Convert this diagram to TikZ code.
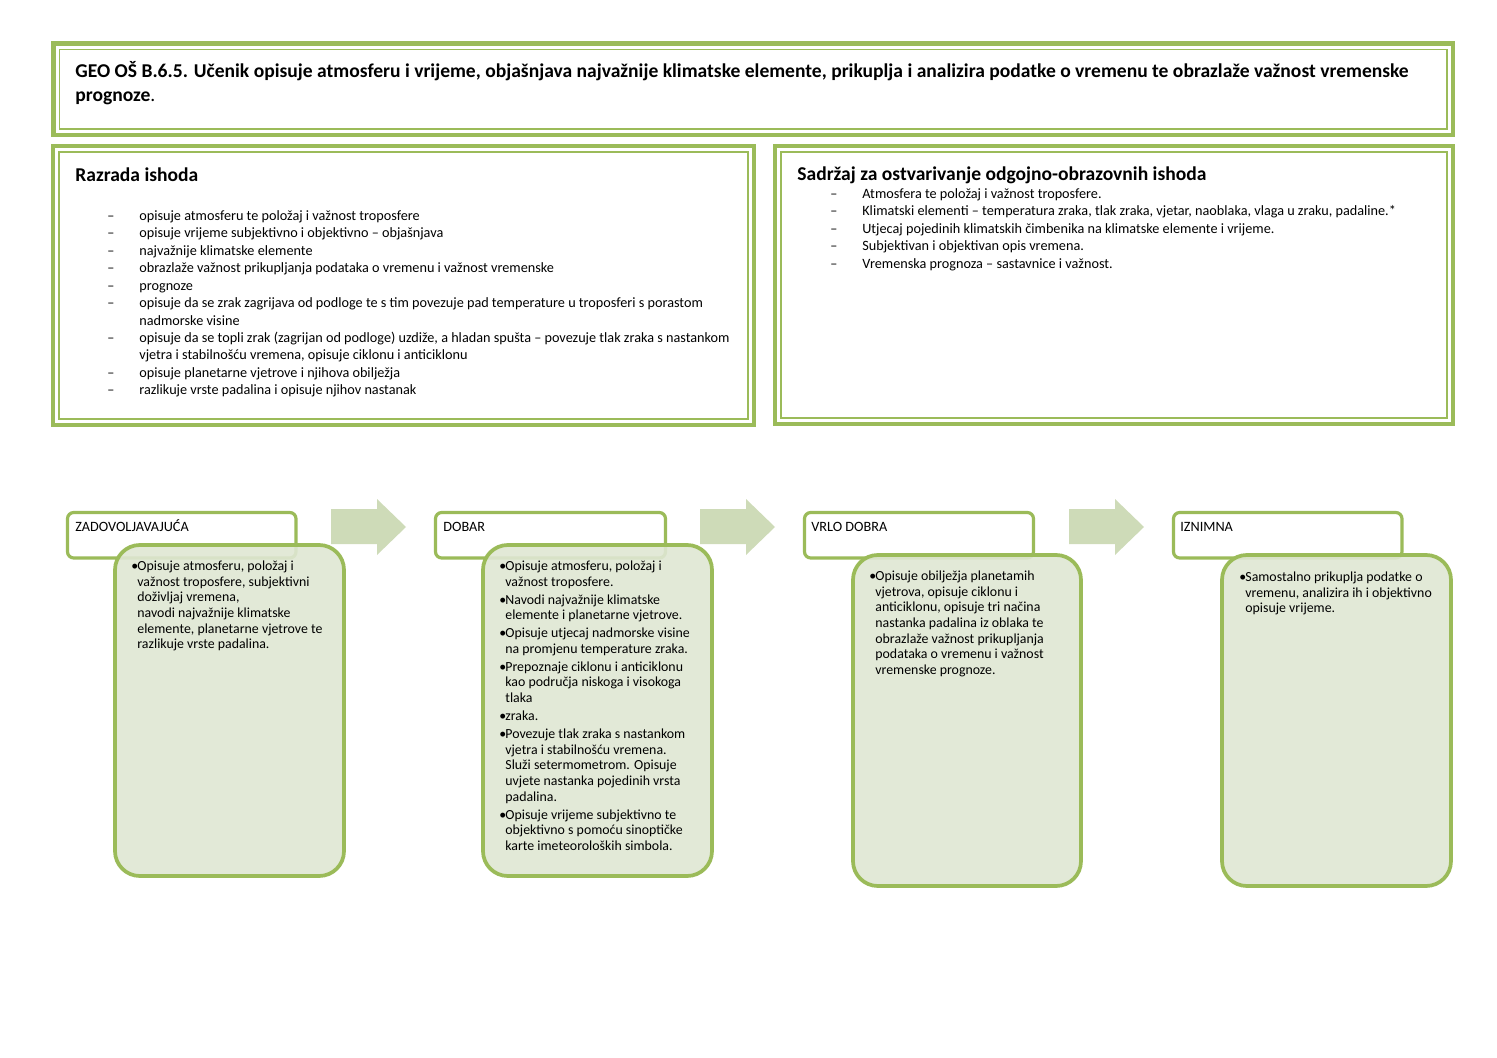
\documentclass[tikz,border=0pt]{standalone}
\usepackage{fontspec}
\setmainfont{Carlito}
\usetikzlibrary{positioning}

\definecolor{gborder}{HTML}{9BBB59}
\definecolor{gfill}{HTML}{DFE7D3}
\definecolor{garrow}{HTML}{CEDBB8}

% double frame: thick outer line, thin inner line
\newcommand{\dblframe}[4]{%
  \draw[outerline] (#1+2,#2+2) rectangle (#3-2,#4-2);
  \draw[innerline] (#1+8,#2+8) rectangle (#3-8,#4-8);}
% block arrow between the levels
\newcommand{\blockarrow}[1]{%
  \fill[garrow] (#1,509) -- (#1+46,509) -- (#1+46,499) -- (#1+75,527)
    -- (#1+46,555) -- (#1+46,544) -- (#1,544) -- cycle;}
\newcommand{\dl}[1]{\makebox[18pt][l]{–}#1}
\newcommand{\cl}[1]{\hspace*{18pt}#1}
\newcommand{\bul}{\makebox[3.4pt][l]{\textbullet}}
\newcommand{\cb}{\hspace*{3.4pt}}

\tikzset{
  outerline/.style={draw=gborder, line width=2.3pt},
  innerline/.style={draw=gborder, line width=0.85pt},
  levelbox/.style={draw=gborder, line width=1.8pt, fill=white, rounded corners=3.5pt},
  detailbox/.style={draw=gborder, line width=2.1pt, fill=gfill, fill opacity=0.9, rounded corners=14pt},
  txt/.style={anchor=base west, inner sep=0pt},
  headfont/.style={font=\fontsize{11}{13.5}\selectfont\bfseries},
  listfont/.style={font=\fontsize{8}{9.8}\selectfont},
  smallfont/.style={font=\fontsize{7.8}{8.8}\selectfont}
}

\begin{document}
\begin{tikzpicture}[x=0.5625pt, y=-0.5625pt]
\useasboundingbox (0,0) rectangle (1497,1058);

% Top frame: outcome
\dblframe{51.5}{41.5}{1455}{137}
\node[txt, headfont] (title) at (75,78) {\begin{tabular}[t]{@{}l@{}}
GEO OŠ B.6.5. Učenik opisuje atmosferu i vrijeme, objašnjava najvažnije klimatske elemente, prikuplja i analizira podatke o vremenu te obrazlaže važnost vremenske\\
prognoze\mdseries.\end{tabular}};

% Left frame: Razrada ishoda
\dblframe{51}{144}{756}{427}
\node[txt, headfont] (razHead) at (75,182) {Razrada ishoda};
\node[txt, listfont] (razList) at (107,220.5) {\begin{tabular}[t]{@{}l@{}}
\dl{opisuje atmosferu te položaj i važnost troposfere}\\
\dl{opisuje vrijeme subjektivno i objektivno – objašnjava}\\
\dl{najvažnije klimatske elemente}\\
\dl{obrazlaže važnost prikupljanja podataka o vremenu i važnost vremenske}\\
\dl{prognoze}\\
\dl{opisuje da se zrak zagrijava od podloge te s tim povezuje pad temperature u troposferi s porastom}\\
\cl{nadmorske visine}\\
\dl{opisuje da se topli zrak (zagrijan od podloge) uzdiže, a hladan spušta – povezuje tlak zraka s nastankom}\\
\cl{vjetra i stabilnošću vremena, opisuje ciklonu i anticiklonu}\\
\dl{opisuje planetarne vjetrove i njihova obilježja}\\
\dl{razlikuje vrste padalina i opisuje njihov nastanak}
\end{tabular}};

% Right frame: Sadrzaj
\dblframe{773}{144}{1455}{426}
\node[txt, headfont] (sadHead) at (797,181) {Sadržaj za ostvarivanje odgojno-obrazovnih ishoda};
\node[txt, listfont] (sadList) at (830,198.5) {\begin{tabular}[t]{@{}l@{}}
\dl{Atmosfera te položaj i važnost troposfere.}\\
\dl{Klimatski elementi – temperatura zraka, tlak zraka, vjetar, naoblaka, vlaga u zraku, padaline.*}\\
\dl{Utjecaj pojedinih klimatskih čimbenika na klimatske elemente i vrijeme.}\\
\dl{Subjektivan i objektivan opis vremena.}\\
\dl{Vremenska prognoza – sastavnice i važnost.}
\end{tabular}};

% Arrows between levels
\blockarrow{331}
\blockarrow{700}
\blockarrow{1069}

% Level 1
\draw[levelbox] (67.5,512.5) rectangle (296,558);
\node[txt, listfont] (lvlA) at (75,531.5) {ZADOVOLJAVAJUĆA};
\draw[detailbox] (115,545) rectangle (344,876);
\node[txt, smallfont] (descA) at (131,570.5) {\begin{tabular}[t]{@{}l@{}}
\bul Opisuje atmosferu, položaj i\\
\cb važnost troposfere, subjektivni\\
\cb doživljaj vremena,\\
\cb navodi najvažnije klimatske\\
\cb elemente, planetarne vjetrove te\\
\cb razlikuje vrste padalina.
\end{tabular}};

% Level 2
\draw[levelbox] (435.5,512.5) rectangle (665.5,558);
\node[txt, listfont] (lvlB) at (443,531.5) {DOBAR};
\draw[detailbox] (483,545) rectangle (712,876);
\node[txt, smallfont] (descB) at (499,570.5) {\begin{tabular}[t]{@{}l@{}}
\bul Opisuje atmosferu, položaj i\\
\cb važnost troposfere.\\[1.3pt]
\bul Navodi najvažnije klimatske\\
\cb elemente i planetarne vjetrove.\\[1.3pt]
\bul Opisuje utjecaj nadmorske visine\\
\cb na promjenu temperature zraka.\\[1.3pt]
\bul Prepoznaje ciklonu i anticiklonu\\
\cb kao područja niskoga i visokoga\\
\cb tlaka\\[1.3pt]
\bul zraka.\\[1.3pt]
\bul Povezuje tlak zraka s nastankom\\
\cb vjetra i stabilnošću vremena.\\
\cb Služi setermometrom. Opisuje\\
\cb uvjete nastanka pojedinih vrsta\\
\cb padalina.\\[1.3pt]
\bul Opisuje vrijeme subjektivno te\\
\cb objektivno s pomoću sinoptičke\\
\cb karte imeteoroloških simbola.
\end{tabular}};

% Level 3
\draw[levelbox] (804.5,512.5) rectangle (1033.5,558);
\node[txt, listfont] (lvlC) at (811,531.5) {VRLO DOBRA};
\draw[detailbox] (853,555) rectangle (1081,886);
\node[txt, smallfont] (descC) at (869,580.5) {\begin{tabular}[t]{@{}l@{}}
\bul Opisuje obilježja planetamih\\
\cb vjetrova, opisuje ciklonu i\\
\cb anticiklonu, opisuje tri načina\\
\cb nastanka padalina iz oblaka te\\
\cb obrazlaže važnost prikupljanja\\
\cb podataka o vremenu i važnost\\
\cb vremenske prognoze.
\end{tabular}};

% Level 4
\draw[levelbox] (1173.5,512.5) rectangle (1402,558);
\node[txt, listfont] (lvlD) at (1180,531.5) {IZNIMNA};
\draw[detailbox] (1222,555) rectangle (1451,886);
\node[txt, smallfont] (descD) at (1239,581.5) {\begin{tabular}[t]{@{}l@{}}
\bul Samostalno prikuplja podatke o\\
\cb vremenu, analizira ih i objektivno\\
\cb opisuje vrijeme.
\end{tabular}};
\end{tikzpicture}
\end{document}
